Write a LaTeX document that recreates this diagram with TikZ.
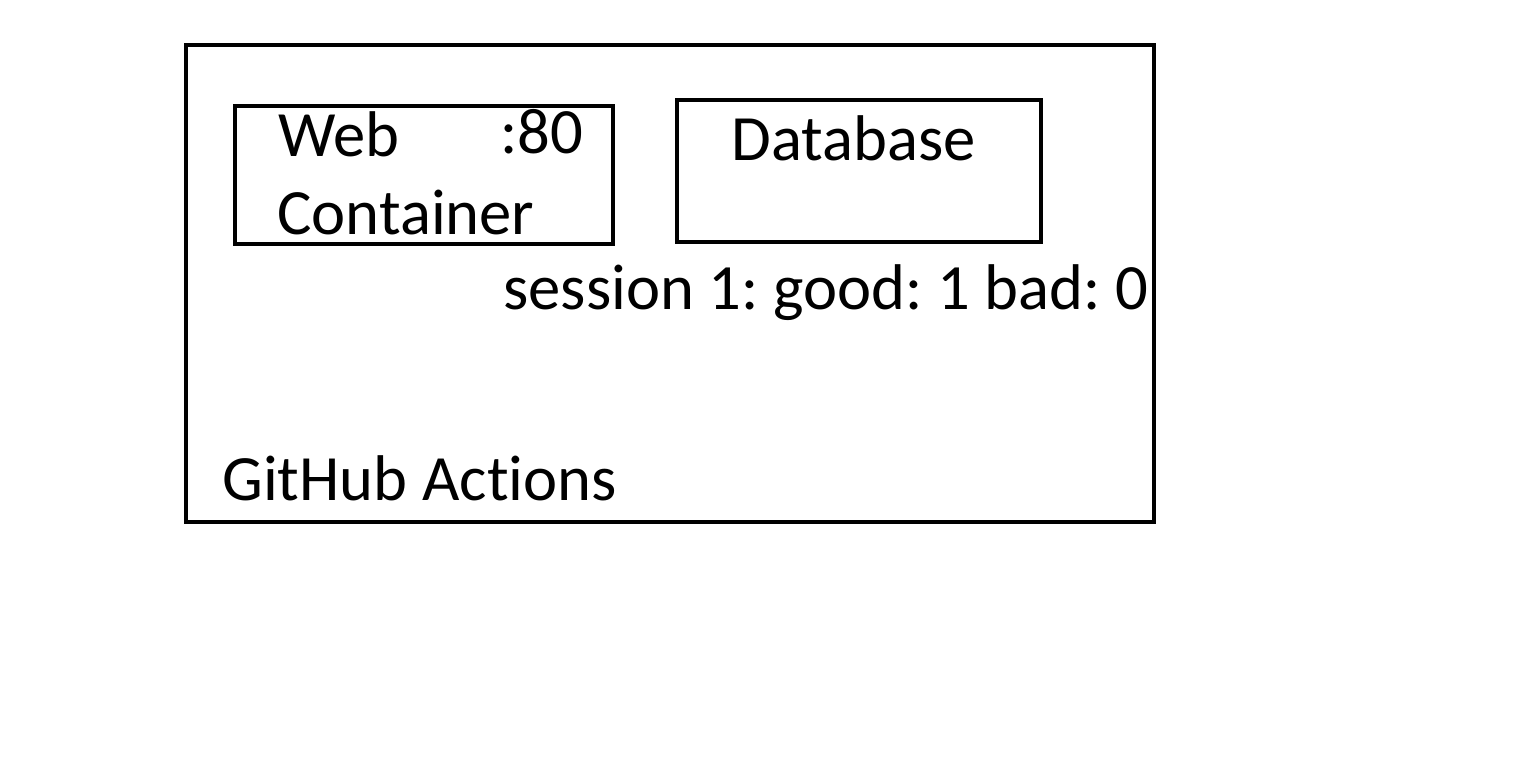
\documentclass[tikz,border=0pt]{standalone}
\usepackage{fontspec}
\setmainfont[Ligatures=NoCommon]{Carlito}
\frenchspacing
\begin{document}
\begin{tikzpicture}[x=0.5pt,y=-0.5pt,
  box/.style={draw=black,line width=2pt},
  lbl/.style={anchor=base west,inner sep=0pt,font=\fontsize{32.3}{39}\selectfont}]
\useasboundingbox[fill=white] (0,0) rectangle (1538,770);
\draw[box] (186,45) rectangle (1154,522);
\draw[box] (235,106) rectangle (613,244);
\draw[box] (677,100) rectangle (1041,242);
\node[lbl] (web) at (278,157) {Web};
\node[lbl] (port) at (500,154) {:80};
\node[lbl] (cont) at (277,235) {Container};
\node[lbl] (db) at (731,161) {Database};
\node[lbl] (sess) at (503,310) {session 1: good: 1 bad: 0};
\node[lbl] (gha) at (222,500) {GitHub Actions};
\end{tikzpicture}
\end{document}
